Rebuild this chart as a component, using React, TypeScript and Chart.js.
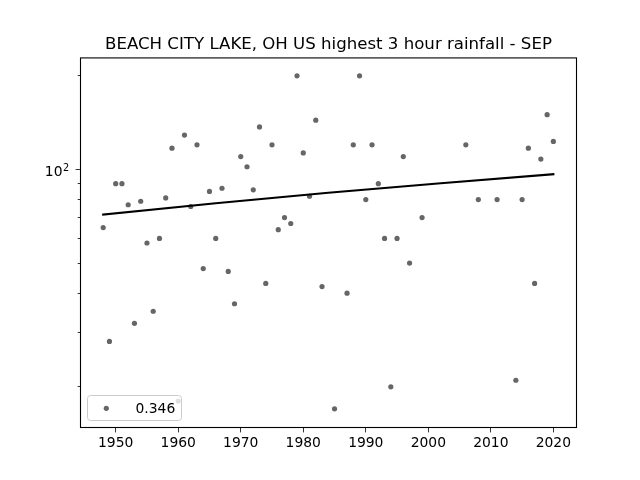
import React, { useEffect, useRef } from "react";
import { Chart, registerables } from "chart.js";

Chart.register(...registerables);

const TITLE = "BEACH CITY LAKE, OH US highest 3 hour rainfall - SEP";
const LEGEND_LABEL = "0.346";
const FONT = "'DejaVu Sans'";

const years = [
  1948, 1949, 1950, 1951, 1952, 1953, 1954, 1955, 1956, 1957, 1958, 1959, 1960, 1961, 1962, 1963,
  1964, 1965, 1966, 1967, 1968, 1969, 1970, 1971, 1972, 1973, 1974, 1975, 1976, 1977, 1978, 1979,
  1980, 1981, 1982, 1983, 1985, 1987, 1988, 1989, 1990, 1991, 1992, 1993, 1994, 1995, 1996, 1997,
  1999, 2006, 2008, 2011, 2014, 2015, 2016, 2017, 2018, 2019, 2020,
];
const rainfall = [
  65, 28, 90, 90, 77, 32, 79, 58, 35, 60, 81, 117, 18, 129, 76, 120,
  48, 85, 60, 87, 47, 37, 110, 102, 86, 137, 43, 120, 64, 70, 67, 200,
  113, 82, 144, 42, 17, 40, 120, 200, 80, 120, 90, 60, 20, 60, 110, 50,
  70, 120, 80, 80, 21, 80, 117, 43, 108, 150, 123,
];
const trendYears = [1948, 1966, 1984, 2002, 2020];
const trendValues = [71.6, 77.8, 84.1, 90.3, 96.5];

const xTicks = [1950, 1960, 1970, 1980, 1990, 2000, 2010, 2020];
const yMajorTicks = [100];
const yMinorTicks = [20, 30, 40, 50, 60, 70, 80, 90, 200];

const overlay = {
  id: "overlay",
  afterDraw(chart: any) {
    const { ctx, chartArea: a, scales } = chart;
    ctx.save();
    // frame
    ctx.strokeStyle = "#000";
    ctx.lineWidth = 1.1;
    ctx.strokeRect(a.left, a.top, a.right - a.left, a.bottom - a.top);
    // minor y ticks
    for (const v of yMinorTicks) {
      const y = Math.round(scales.y.getPixelForValue(v) - 0.5) + 0.5;
      ctx.lineWidth = 0.8;
      ctx.beginPath();
      ctx.moveTo(a.left, y);
      ctx.lineTo(a.left - 2.8, y);
      ctx.stroke();
    }
    // major y label with superscript exponent
    const yMajor = scales.y.getPixelForValue(yMajorTicks[0]);
    ctx.fillStyle = "#000";
    ctx.textBaseline = "alphabetic";
    ctx.textAlign = "right";
    ctx.font = `13.89px ${FONT}`;
    ctx.fillText("10", 62.5, yMajor + 6.5);
    ctx.textAlign = "left";
    ctx.font = `9.72px ${FONT}`;
    ctx.fillText("2", 63, yMajor + 1.2);
    // legend box
    const lx = 87.5, ly = 395.5, lw = 94, lh = 25, r = 3;
    ctx.beginPath();
    ctx.roundRect(lx, ly, lw, lh, r);
    ctx.fillStyle = "rgba(255,255,255,0.8)";
    ctx.fill();
    ctx.strokeStyle = "#cccccc";
    ctx.lineWidth = 1;
    ctx.stroke();
    ctx.beginPath();
    ctx.arc(106.3, 408.3, 2.6, 0, Math.PI * 2);
    ctx.fillStyle = "rgba(0,0,0,0.6)";
    ctx.fill();
    ctx.fillStyle = "#000";
    ctx.font = `13.89px ${FONT}`;
    ctx.textAlign = "left";
    ctx.textBaseline = "alphabetic";
    ctx.fillText(LEGEND_LABEL, 135.5, 413);
    ctx.restore();
  },
};

export default function App() {
  const ref = useRef<HTMLCanvasElement | null>(null);
  useEffect(() => {
    document.body.style.margin = "0";
    const chart = new Chart(ref.current!, {
      type: "scatter",
      data: {
        datasets: [
          {
            type: "line",
            label: "trend",
            data: trendYears.map((x, i) => ({ x, y: trendValues[i] })),
            borderColor: "#000",
            borderWidth: 2.08,
            borderCapStyle: "square",
            pointRadius: 0,
            tension: 0,
            fill: false,
            order: 0,
          },
          {
            label: LEGEND_LABEL,
            data: years.map((x, i) => ({ x, y: rainfall[i] })),
            backgroundColor: "rgba(0,0,0,0.6)",
            borderWidth: 0,
            pointRadius: 2.6,
            order: 1,
          },
        ],
      } as any,
      options: {
        responsive: false,
        animation: false,
        devicePixelRatio: 1,
        layout: { padding: { left: 0, right: 63.5, top: 0, bottom: 0 } },
        plugins: {
          legend: { display: false },
          tooltip: { enabled: false },
          title: {
            display: true,
            fullSize: false,
            text: TITLE,
            color: "#000",
            font: { family: FONT, size: 16.6, weight: "normal", lineHeight: 1.2 },
            padding: { top: 35, bottom: 3 },
          },
        },
        scales: {
          x: {
            type: "linear",
            min: 1944.37,
            max: 2023.7,
            afterBuildTicks: (s: any) => {
              s.ticks = xTicks.map((value) => ({ value }));
            },
            afterFit: (s: any) => {
              s.height = 52.5;
            },
            grid: { drawOnChartArea: false, drawTicks: true, tickLength: 4.9, tickColor: "#000", tickWidth: 0.8 },
            border: { display: false },
            ticks: {
              color: "#000",
              font: { family: FONT, size: 13.89 },
              padding: 3,
              maxRotation: 0,
              autoSkip: false,
              callback: (v: any) => String(v),
            },
          },
          y: {
            type: "logarithmic",
            min: 14.8,
            max: 228.3,
            afterBuildTicks: (s: any) => {
              s.ticks = yMajorTicks.map((value) => ({ value, major: true }));
            },
            afterFit: (s: any) => {
              s.width = 80.5;
            },
            grid: { drawOnChartArea: false, drawTicks: true, tickLength: 4.9, tickColor: "#000", tickWidth: 0.8 },
            border: { display: false },
            ticks: {
              color: "#000",
              font: { family: FONT, size: 13.89 },
              padding: 4,
              autoSkip: false,
              callback: () => "",
            },
          },
        },
      } as any,
      plugins: [overlay],
    });
    return () => chart.destroy();
  }, []);
  return <canvas ref={ref} width={640} height={480} style={{ display: "block", width: 640, height: 480 }} />;
}
